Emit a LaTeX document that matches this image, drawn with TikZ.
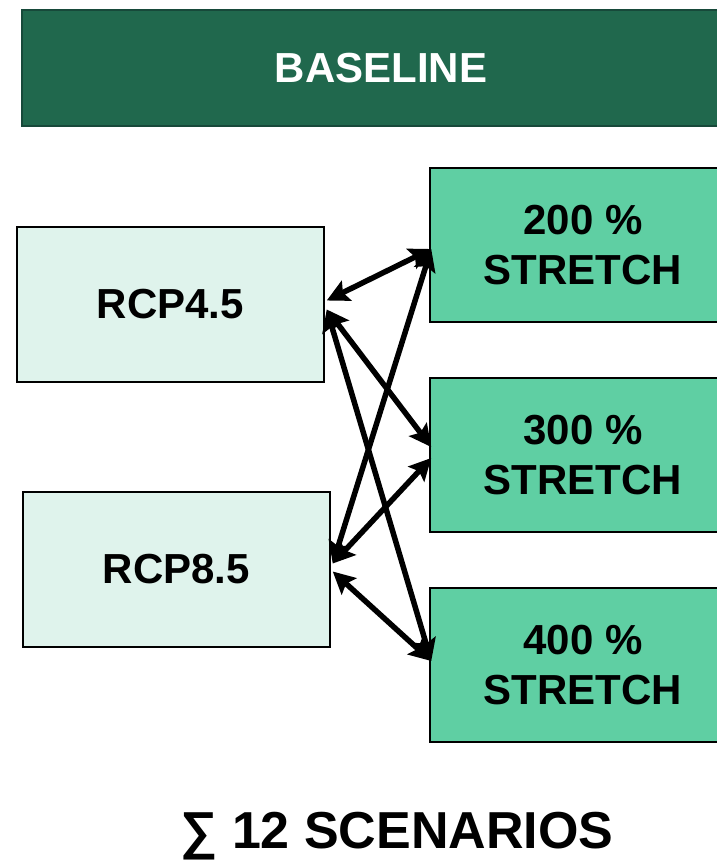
\documentclass[tikz,border=0pt]{standalone}
\usepackage{fontspec}
\setmainfont{Liberation Sans}
\usetikzlibrary{arrows.meta,calc}
\definecolor{bannerfill}{HTML}{20684D}
\definecolor{bannerdraw}{HTML}{17493A}
\definecolor{lightbox}{HTML}{DFF3EC}
\definecolor{greenbox}{HTML}{5FCFA3}
\tikzset{
  banner/.style={rectangle, fill=bannerfill, draw=bannerdraw, line width=2pt, minimum width=718pt, minimum height=116pt, text=white, font=\fontsize{42}{50}\selectfont\bfseries, inner sep=0pt},
  rcpbox/.style={rectangle, fill=lightbox, draw=black, line width=1.5pt, minimum width=307pt, minimum height=155pt, font=\fontsize{42}{50}\selectfont\bfseries, inner sep=0pt},
  stretchbox/.style={rectangle, fill=greenbox, draw=black, line width=1.5pt, minimum width=306pt, minimum height=154pt, font=\fontsize{42}{50}\selectfont\bfseries, align=center, inner sep=0pt},
  link/.style={line width=5.5pt, {Stealth[length=22pt,width=22pt,inset=4pt]}-{Stealth[length=22pt,width=22pt,inset=4pt]}},
  total/.style={font=\fontsize{52}{60}\selectfont\bfseries, inner sep=0pt}
}
\begin{document}
\begin{tikzpicture}[x=1pt,y=-1pt]
\useasboundingbox (0,0) rectangle (717,862);
\node[banner] (base) at (381,68) {BASELINE};
\node[rcpbox] (r45) at (170.5,304.5) {RCP4.5};
\node[rcpbox] (r85) at (176.5,569.5) {RCP8.5};
\node[stretchbox] (s200) at (583,245) {200 \%\\STRETCH};
\node[stretchbox] (s300) at (583,455) {300 \%\\STRETCH};
\node[stretchbox] (s400) at (583,665) {400 \%\\STRETCH};
\node[total] (sum) at (397,836) {∑ 12 SCENARIOS};
\coordinate (a1) at ($(r45.east)+(2,-4)$);
\coordinate (a2) at ($(r45.east)+(2,5)$);
\coordinate (b1) at ($(r85.east)+(2,-6)$);
\coordinate (b2) at ($(r85.east)+(2,2)$);
\coordinate (t200) at ($(s200.west)+(2,4)$);
\coordinate (t300a) at ($(s300.west)+(2,-8)$);
\coordinate (t300b) at ($(s300.west)+(2,3)$);
\coordinate (t400) at ($(s400.west)+(2,-4)$);
\draw[link] (a1) -- (t200);
\draw[link] (a2) -- (t300a);
\draw[link] (a2) -- (t400);
\draw[link] (b1) -- (t200);
\draw[link] (b1) -- (t300b);
\draw[link] (b2) -- (t400);
\end{tikzpicture}
\end{document}
